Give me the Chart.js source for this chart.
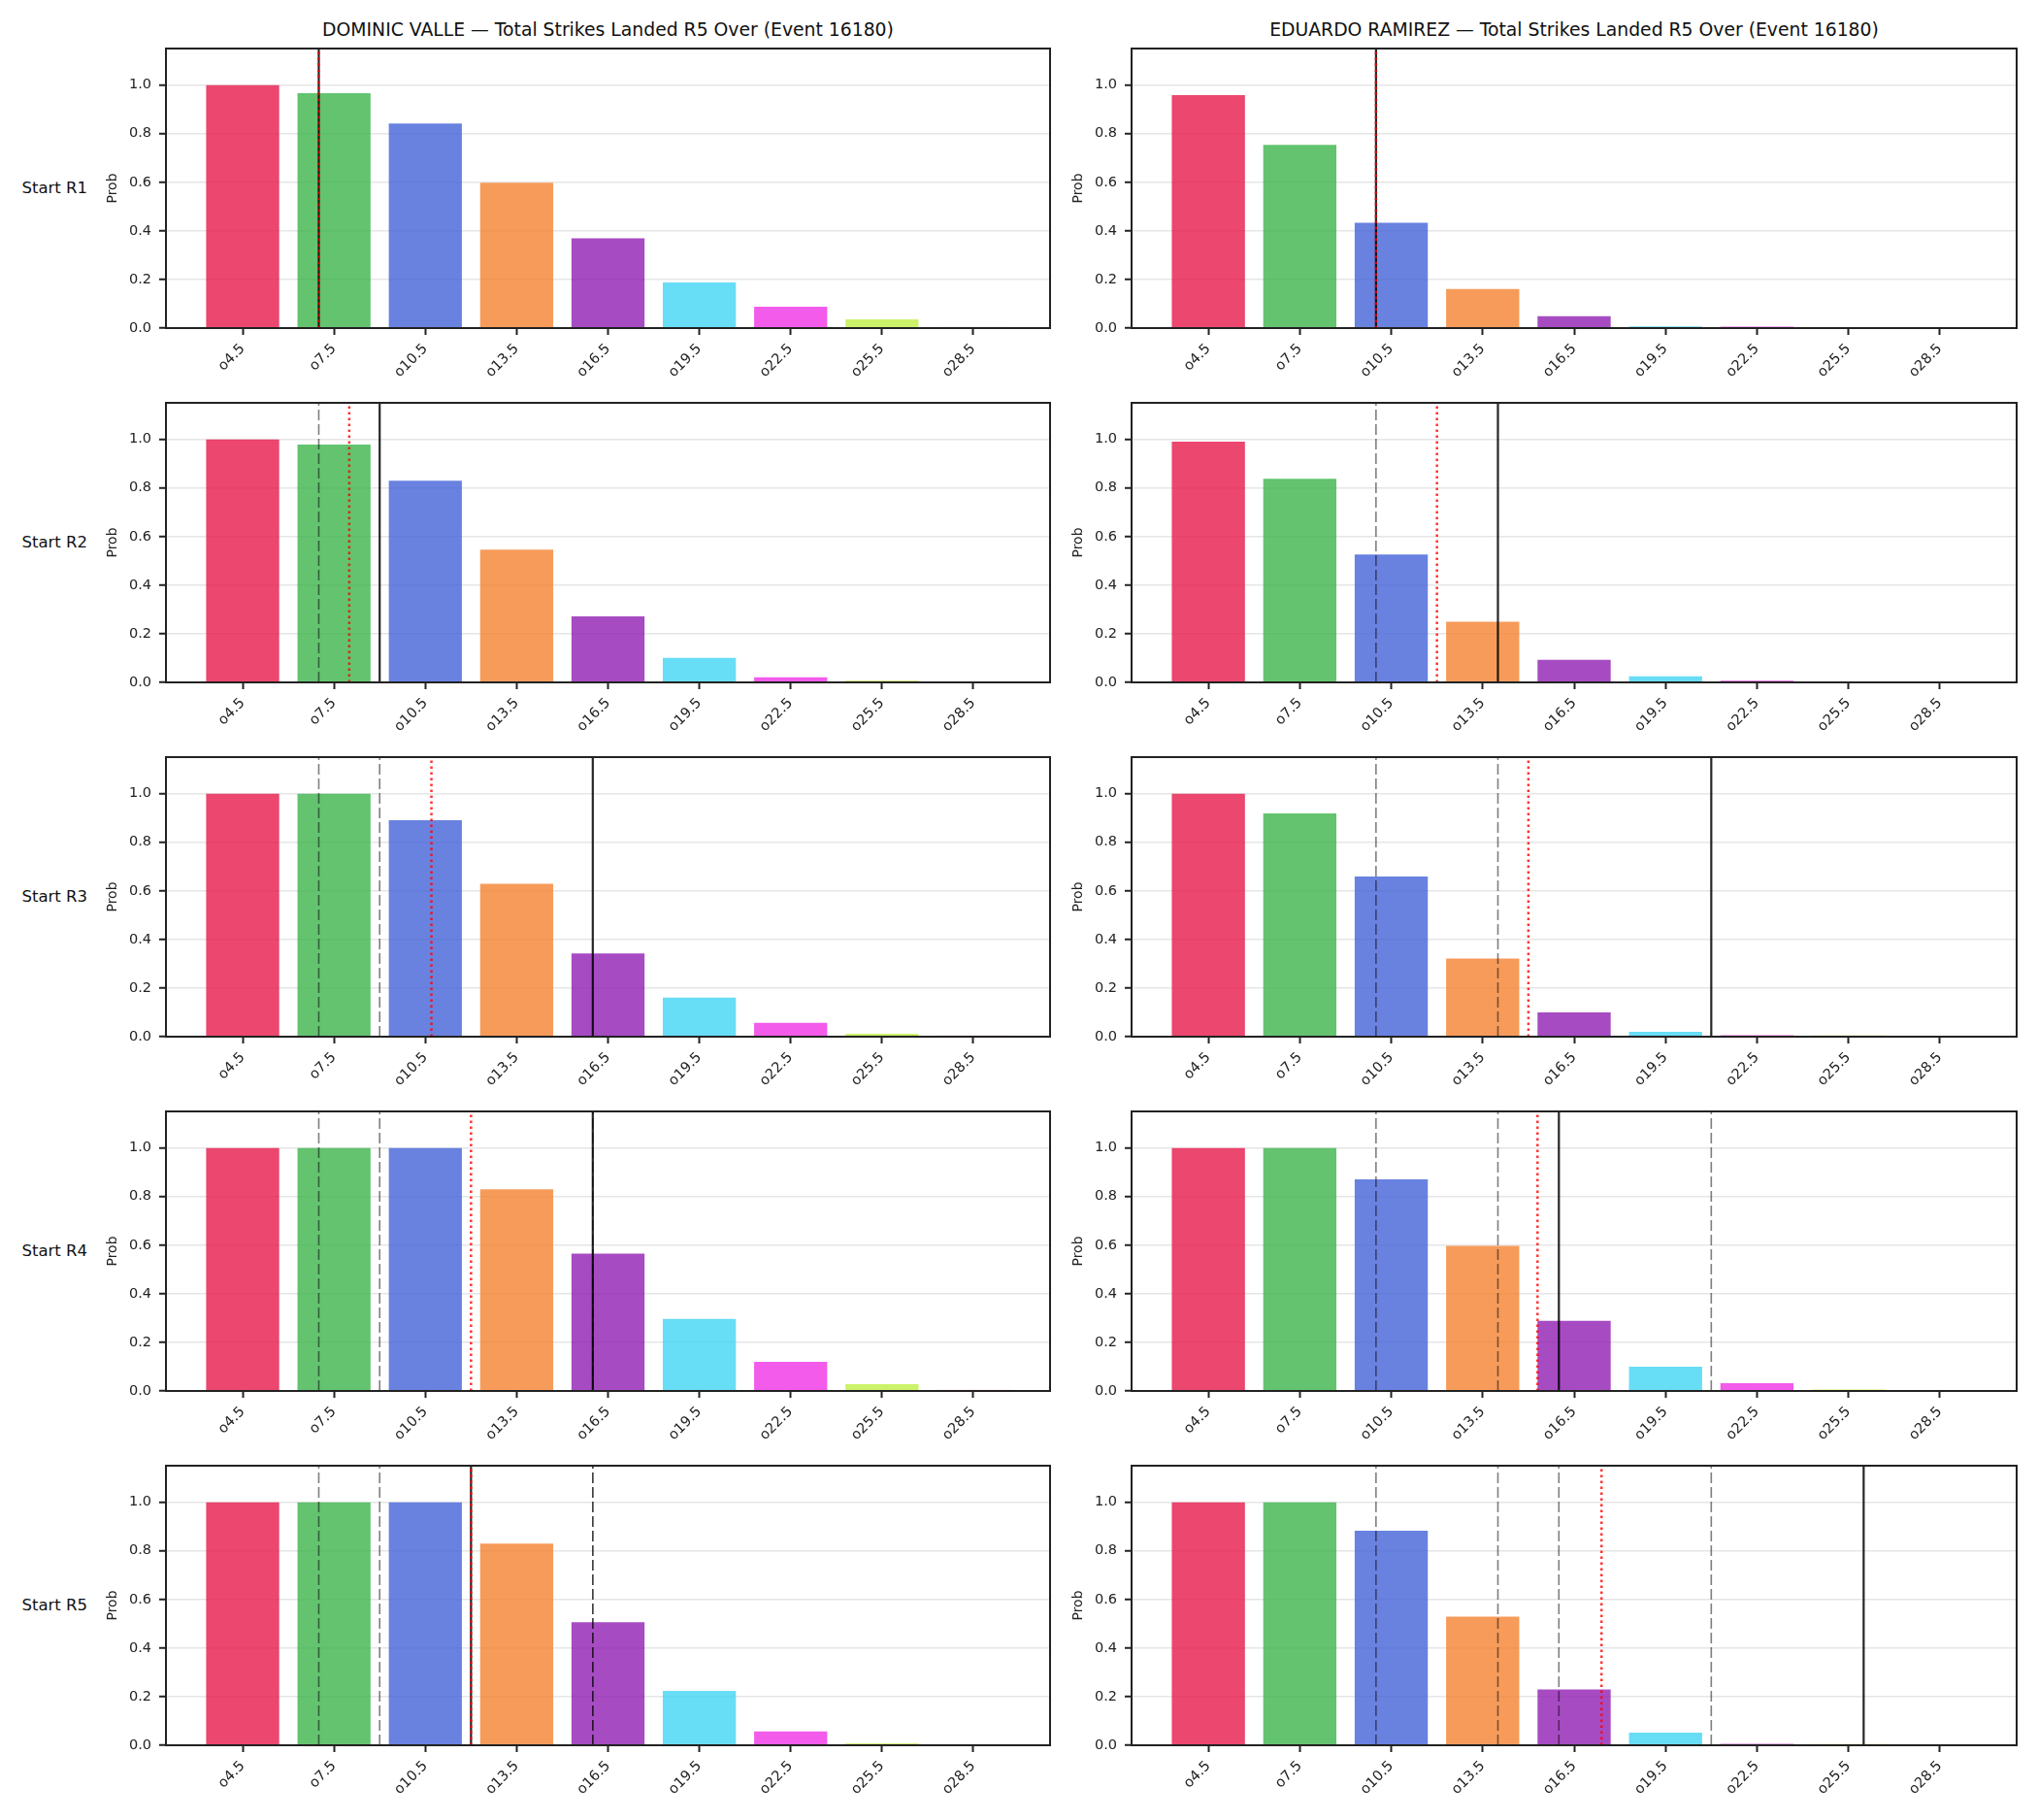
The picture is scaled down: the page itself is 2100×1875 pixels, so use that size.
<!DOCTYPE html>
<html>
<head>
<meta charset="utf-8">
<script src="https://cdn.jsdelivr.net/npm/chart.js@4.4.1/dist/chart.umd.min.js"></script>
<style>
  html, body { margin: 0; padding: 0; background: #fff; }
  body { width: 2100px; height: 1875px; position: relative; overflow: hidden; font-family: 'DejaVu Sans', sans-serif; color: #111; }
  canvas { position: absolute; }
  .title { position: absolute; font-size: 18.8px; line-height: 18.8px; white-space: nowrap; transform: translateX(-50%); }
  .rowlab { position: absolute; left: 0; width: 90px; text-align: right; font-size: 16.5px; line-height: 16.5px; white-space: nowrap; }
</style>
</head>
<body>
<script>
// thresholds on the x axis
const categories = ['o4.5', 'o7.5', 'o10.5', 'o13.5', 'o16.5', 'o19.5', 'o22.5', 'o25.5', 'o28.5'];
const barColors  = ['#e6194b', '#3cb44b', '#4363d8', '#f58231', '#911eb4', '#42d4f4', '#f032e6', '#bfef45', '#fabed4'];
const rowLabels  = ['Start R1', 'Start R2', 'Start R3', 'Start R4', 'Start R5'];
const yTicks     = [0, 0.2, 0.4, 0.6, 0.8, 1.0];
const Y_MAX = 1.15;

const valleTitle   = 'DOMINIC VALLE — Total Strikes Landed R5 Over (Event 16180)';
const ramirezTitle = 'EDUARDO RAMIREZ — Total Strikes Landed R5 Over (Event 16180)';

// P(over) per start round
const valleR1 = [0.999, 0.966, 0.842, 0.598, 0.369, 0.188, 0.088, 0.036, 0.005];
const valleR2 = [0.999, 0.978, 0.830, 0.546, 0.272, 0.101, 0.021, 0.007, 0.004];
const valleR3 = [0.999, 0.999, 0.890, 0.629, 0.342, 0.161, 0.057, 0.012, 0.005];
const valleR4 = [0.999, 0.999, 0.999, 0.830, 0.565, 0.296, 0.120, 0.028, 0.005];
const valleR5 = [0.999, 0.999, 0.999, 0.830, 0.506, 0.224, 0.057, 0.008, 0.004];

const ramirezR1 = [0.958, 0.754, 0.433, 0.161, 0.049, 0.007, 0.006, 0.004, 0.003];
const ramirezR2 = [0.990, 0.838, 0.526, 0.250, 0.093, 0.025, 0.007, 0.004, 0.003];
const ramirezR3 = [0.999, 0.918, 0.659, 0.321, 0.100, 0.020, 0.006, 0.005, 0.003];
const ramirezR4 = [0.999, 0.999, 0.870, 0.597, 0.288, 0.100, 0.032, 0.006, 0.003];
const ramirezR5 = [0.999, 0.999, 0.882, 0.529, 0.230, 0.052, 0.006, 0.005, 0.003];

// vertical markers, in strikes (solid black = projection, red dotted = mean)
// earlier rounds' projections are shown as grey dashed lines
const valleProj   = [7, 9, 16, 16, 12];
const valleMean   = [7, 8, 10.7, 12, 12];
const ramirezProj = [10, 14, 21, 16, 26];
const ramirezMean = [10, 12, 15, 15.3, 17.4];

const fighters = [
  { title: valleTitle,   probs: [valleR1, valleR2, valleR3, valleR4, valleR5],             proj: valleProj,   mean: valleMean },
  { title: ramirezTitle, probs: [ramirezR1, ramirezR2, ramirezR3, ramirezR4, ramirezR5], proj: ramirezProj, mean: ramirezMean },
];

const lineVals = categories.map(c => parseFloat(c.slice(1)));
const toIndex = s => (s - lineVals[0]) / (lineVals[1] - lineVals[0]);

function rgba(hex, a) {
  const n = parseInt(hex.slice(1), 16);
  return `rgba(${n >> 16},${(n >> 8) & 255},${n & 255},${a})`;
}

function vline(strikes, style) {
  return Object.assign({
    type: 'line',
    data: [{ x: toIndex(strikes), y: 0 }, { x: toIndex(strikes), y: Y_MAX }],
    pointRadius: 0, fill: false, tension: 0,
  }, style);
}

const frame = {
  id: 'frame',
  afterDatasetsDraw(chart) {
    const { ctx, chartArea: a } = chart;
    ctx.save();
    ctx.strokeStyle = '#222';
    ctx.lineWidth = 2;
    ctx.strokeRect(a.left, a.top, a.right - a.left, a.bottom - a.top);
    ctx.restore();
  },
};

// layout
const cols = [
  { left: 100,  width: 992, padRight: 10, center: 626.5 },
  { left: 1095, width: 995, padRight: 12, center: 1622 },
];
const ROW0 = 50, ROW_STEP = 365, PLOT_H = 288, PAD_TOP = 10, XAXIS_H = 60, YAXIS_W = 71;
const tickFont = { family: 'DejaVu Sans', size: 14.5 };

fighters.forEach((f, c) => {
  const col = cols[c];
  const t = document.createElement('div');
  t.className = 'title';
  t.textContent = f.title;
  t.style.left = col.center + 'px';
  t.style.top = '22px';
  document.body.appendChild(t);

  f.probs.forEach((probs, r) => {
    const rowTop = ROW0 + r * ROW_STEP;
    if (c === 0) {
      const lab = document.createElement('div');
      lab.className = 'rowlab';
      lab.textContent = rowLabels[r];
      lab.style.top = (rowTop + PLOT_H / 2 - 8) + 'px';
      document.body.appendChild(lab);
    }

    const cv = document.createElement('canvas');
    cv.width = col.width;
    cv.height = PAD_TOP + PLOT_H + XAXIS_H;
    cv.style.left = col.left + 'px';
    cv.style.top = (rowTop - PAD_TOP) + 'px';
    document.body.appendChild(cv);

    const datasets = [{
      type: 'bar',
      data: probs.map((v, i) => ({ x: i, y: v })),
      backgroundColor: barColors.map(h => rgba(h, 0.8)),
      borderWidth: 0,
      barPercentage: 0.8,
      categoryPercentage: 1,
      order: 3,
    }];
    f.proj.slice(0, r).forEach(s => datasets.push(vline(s, {
      borderColor: 'rgba(0,0,0,0.5)', borderWidth: 1.6, borderDash: [11, 4], order: 2,
    })));
    datasets.push(vline(f.proj[r], { borderColor: 'rgba(0,0,0,0.85)', borderWidth: 2.2, order: 1 }));
    datasets.push(vline(f.mean[r], { borderColor: 'rgba(255,0,0,0.8)', borderWidth: 2.5, borderDash: [2.5, 3.5], order: 0 }));

    new Chart(cv.getContext('2d'), {
      type: 'bar',
      data: { datasets },
      plugins: [frame],
      options: {
        responsive: false,
        animation: false,
        layout: { padding: { top: PAD_TOP, right: col.padRight, left: 0, bottom: 0 } },
        plugins: { legend: { display: false }, tooltip: { enabled: false } },
        scales: {
          x: {
            type: 'linear',
            min: -0.84, max: categories.length - 1 + 0.84,
            offset: false,
            afterBuildTicks: a => { a.ticks = categories.map((_, i) => ({ value: i })); },
            afterFit: s => { s.height = XAXIS_H; s.paddingLeft = 0; s.paddingRight = 0; },
            border: { display: false },
            grid: { offset: false, drawOnChartArea: false, drawTicks: true, tickLength: 7, tickColor: '#222', tickWidth: 2 },
            ticks: {
              autoSkip: false, minRotation: 45, maxRotation: 45, padding: 6,
              color: '#222', font: tickFont,
              callback: v => categories[Math.round(v)],
            },
          },
          y: {
            min: 0, max: Y_MAX,
            afterBuildTicks: a => { a.ticks = yTicks.map(v => ({ value: v })); },
            afterFit: s => { s.width = YAXIS_W; s.paddingTop = 0; s.paddingBottom = 0; },
            border: { display: false },
            grid: { color: '#e6e6e6', lineWidth: 1.5, tickLength: 7, tickColor: '#222', tickWidth: 2 },
            ticks: { padding: 8, color: '#222', font: tickFont, callback: v => v.toFixed(1) },
            title: { display: true, text: 'Prob', color: '#222', font: { family: 'DejaVu Sans', size: 14 }, padding: { top: 8, bottom: 0 } },
          },
        },
      },
    });
  });
});
</script>
</body>
</html>
